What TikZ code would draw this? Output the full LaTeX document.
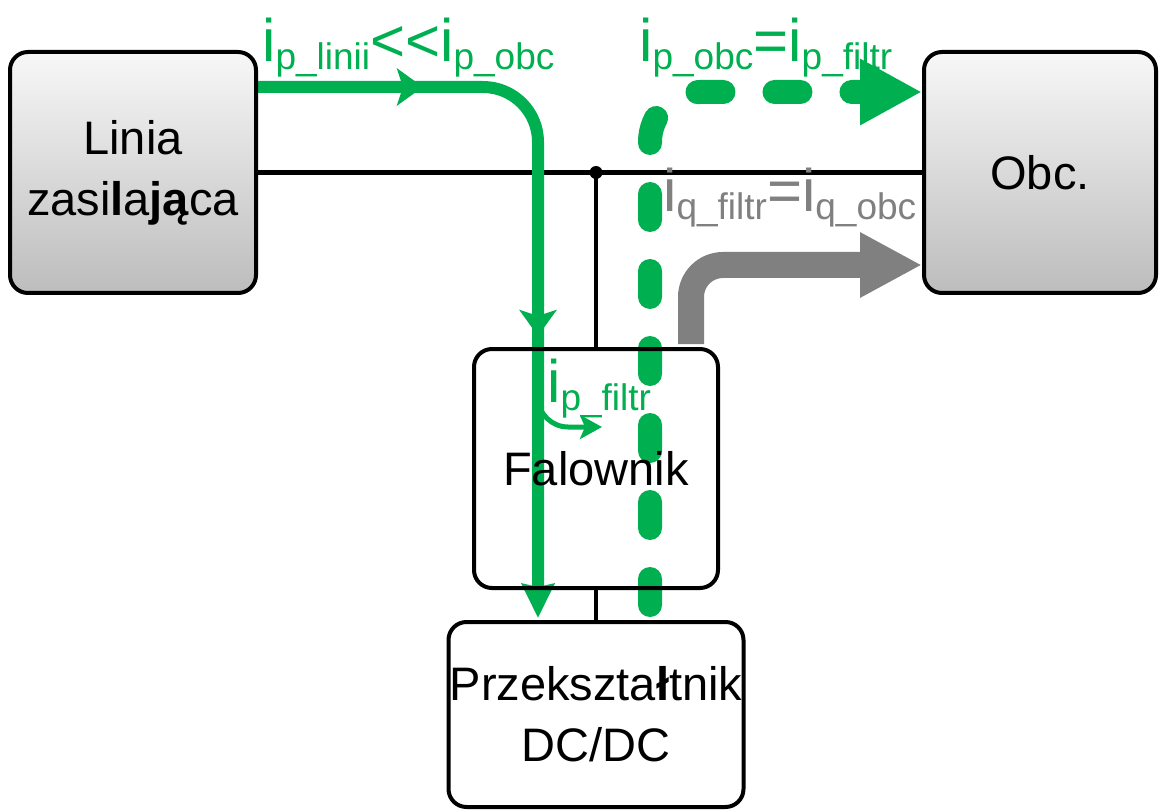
\documentclass[tikz,border=0pt]{standalone}
\usepackage{fontspec}
\setmainfont{Liberation Sans}
\usetikzlibrary{arrows.meta}
\definecolor{flowgreen}{HTML}{00B050}
\definecolor{flowgray}{HTML}{808080}
\pgfdeclarelayer{wires}
\pgfdeclarelayer{flows}
\pgfsetlayers{wires,flows,main}
% current symbol with a lowered subscript
\newcommand\isub[1]{i\raisebox{-8pt}{\fontsize{37}{37}\selectfont #1}}
\begin{document}
\begin{tikzpicture}[x=1pt,y=-1pt,
  box/.style={draw=black,line width=4pt,rounded corners=18pt,inner sep=0pt,
    align=center,font=\fontsize{47}{61}\selectfont},
  shadedbox/.style={box,top color=white!97!black,bottom color=black!26},
  wire/.style={line width=4.5pt,black},
  lbl/.style={inner sep=0pt,font=\fontsize{60}{60}\selectfont},
  pflow/.style={flowgreen,line width=12pt,rounded corners=55pt},
  midtip/.style={flowgreen,line width=12pt,-{Stealth[length=26pt,width=37pt,inset=6pt]}},
  branchflow/.style={flowgreen,line width=5pt},
  dflow/.style={flowgreen,line width=24pt,line cap=round,dash pattern=on 26pt off 51pt,
    rounded corners=50pt},
  qflow/.style={flowgray,line width=26pt,rounded corners=32pt}
]
\useasboundingbox (0,0) rectangle (1159,810);

% blocks
\node[shadedbox,minimum width=246pt,minimum height=241pt] (lin) at (133,172.5)
  {Linia\\zasi\textbf{l}a\textbf{ją}ca};
\node[shadedbox,minimum width=232pt,minimum height=241pt] (obc) at (1040,172.5) {Obc.};
\node[box,minimum width=244pt,minimum height=239pt] (fal) at (596,468.5) {Falownik};
\node[box,minimum width=295pt,minimum height=185pt] (prz) at (596,714.5)
  {Przekszta\textbf{ł}tnik\\DC/DC};

% supply bus
\coordinate (j) at (596,172.5);
\begin{pgfonlayer}{wires}
  \draw[wire] (lin.east) -- (obc.west);
  \draw[wire] (j) -- (fal.north);
  \draw[wire] (fal.south) -- (prz.north);
  \fill (j) circle (6.5);
\end{pgfonlayer}

% power flows
\coordinate (ps) at ([yshift=85.5pt]lin.east);
\coordinate (pc) at (538,87);
\coordinate (pe) at (538,618);
\coordinate (bs) at (538,380);
\coordinate (be) at (602,427);
\coordinate (ds) at (650,605);
\coordinate (dc) at (650,92);
\coordinate (de) at ([yshift=80.5pt]obc.west);
\coordinate (qs) at (691,344);
\coordinate (qc) at (691,265);
\coordinate (qe) at ([yshift=-92.5pt]obc.west);
\begin{pgfonlayer}{flows}
  \draw[pflow,-{Stealth[length=34pt,width=32pt,inset=3pt]}] (ps) -- (pc) -- (pe);
  % direction marks along the line current
  \draw[midtip] (380,87) -- (423,87);
  \draw[midtip] (538,295) -- (538,336);
  \draw[branchflow,-{Stealth[length=22pt,width=24pt,inset=5pt]}]
    (bs) -- (538,397) .. controls (538,414) and (552,427) .. (568,427) -- (be);
  \draw[dflow,-{Triangle[length=62pt,width=62pt]}] (ds) -- (dc) -- (de);
  \draw[qflow,-{Triangle[length=62pt,width=61pt]}] (qs) -- (qc) -- (qe);
\end{pgfonlayer}

% current labels
\node[lbl,flowgreen,anchor=base west] (l1) at (262,62) {\isub{p\_linii}<{}<\isub{p\_obc}};
\node[lbl,flowgreen,anchor=base west] (l2) at (639,62) {\isub{p\_obc}=\isub{p\_filtr}};
\node[lbl,flowgray,anchor=base west] (l3) at (663,212) {\isub{q\_filtr}=\isub{q\_obc}};
\node[lbl,flowgreen,anchor=base west] (l4) at (547,402) {\isub{p\_filtr}};
\end{tikzpicture}
\end{document}
